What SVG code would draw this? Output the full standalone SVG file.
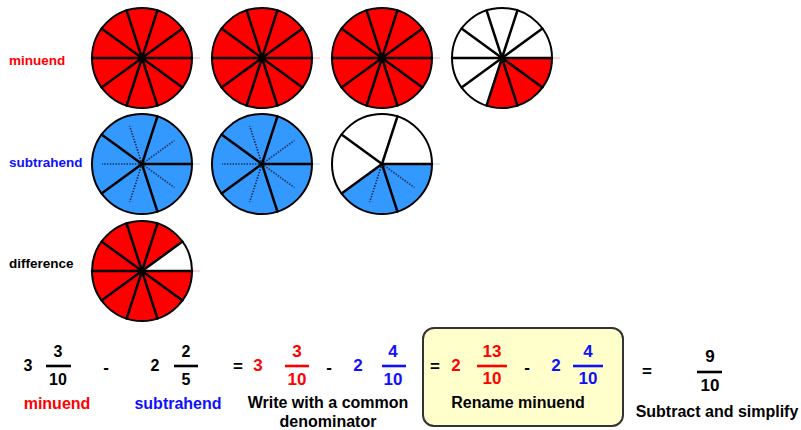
<svg xmlns="http://www.w3.org/2000/svg" xmlns:xlink="http://www.w3.org/1999/xlink" width="801" height="430" viewBox="0 0 801 430">
<style>
text{font-family:"Liberation Sans",Arial,sans-serif;font-weight:bold}
.lbl{font-size:13.5px}
.cap{font-size:16px;text-anchor:middle}
.num{font-size:16px;text-anchor:middle}
.num2{font-size:17px;text-anchor:middle}
.sym{font-size:17px;text-anchor:middle}
.red{fill:#ff0000}
.blue{fill:#1010ff}
.blk{fill:#000}
.spoke{stroke:#000;stroke-width:2.5;stroke-linecap:round}
.dot{stroke:#1a2a44;stroke-width:1.6;stroke-dasharray:1.4 1.4}
.rim{fill:none;stroke:#000;stroke-width:2}
.bar{stroke-width:2.6}
</style>
<defs>
<g id="spokes10">
<line class="spoke" x1="0" y1="0" x2="50" y2="0"/>
<line class="spoke" x1="0" y1="0" x2="40.45" y2="-29.39"/>
<line class="spoke" x1="0" y1="0" x2="15.45" y2="-47.55"/>
<line class="spoke" x1="0" y1="0" x2="-15.45" y2="-47.55"/>
<line class="spoke" x1="0" y1="0" x2="-40.45" y2="-29.39"/>
<line class="spoke" x1="0" y1="0" x2="-50" y2="0"/>
<line class="spoke" x1="0" y1="0" x2="-40.45" y2="29.39"/>
<line class="spoke" x1="0" y1="0" x2="-15.45" y2="47.55"/>
<line class="spoke" x1="0" y1="0" x2="15.45" y2="47.55"/>
<line class="spoke" x1="0" y1="0" x2="40.45" y2="29.39"/>
<circle cx="0" cy="0" r="3" fill="#000"/>
</g>
<g id="spokes5">
<line class="spoke" x1="0" y1="0" x2="50" y2="0"/>
<line class="spoke" x1="0" y1="0" x2="15.45" y2="-47.55"/>
<line class="spoke" x1="0" y1="0" x2="-40.45" y2="-29.39"/>
<line class="spoke" x1="0" y1="0" x2="-40.45" y2="29.39"/>
<line class="spoke" x1="0" y1="0" x2="15.45" y2="47.55"/>
</g>
<g id="dots5">
<line class="dot" x1="0" y1="0" x2="32.36" y2="-23.51"/>
<line class="dot" x1="0" y1="0" x2="-12.36" y2="-38.04"/>
<line class="dot" x1="0" y1="0" x2="-40" y2="0"/>
<line class="dot" x1="0" y1="0" x2="-12.36" y2="38.04"/>
<line class="dot" x1="0" y1="0" x2="32.36" y2="23.51"/>
</g>
<g id="redFull">
<line x1="50" y1="0" x2="58" y2="0" stroke="#ffb0b0" stroke-width="1"/>
<circle r="50" fill="#ff0000"/>
<use xlink:href="#spokes10"/>
<circle r="50" class="rim"/>
</g>
<g id="blueFull">
<line x1="50" y1="0" x2="58" y2="0" stroke="#b0d8ff" stroke-width="1"/>
<circle r="50" fill="#3399ff"/>
<use xlink:href="#dots5"/>
<use xlink:href="#spokes5"/>
<circle r="50" class="rim"/>
</g>
</defs>

<g id="label-minuend"><text class="lbl red" x="9" y="65">minuend</text></g>
<g id="label-subtrahend"><text class="lbl blue" x="9" y="167">subtrahend</text></g>
<g id="label-difference"><text class="lbl blk" x="9" y="268">difference</text></g>

<g id="minuend-1" transform="translate(142,58)"><use xlink:href="#redFull"/></g>
<g id="minuend-2" transform="translate(262,58)"><use xlink:href="#redFull"/></g>
<g id="minuend-3" transform="translate(382,58)"><use xlink:href="#redFull"/></g>
<g id="minuend-4" transform="translate(502,58)">
<line x1="50" y1="0" x2="58" y2="0" stroke="#ffb0b0" stroke-width="1"/>
<circle r="50" fill="#fff"/>
<path d="M0,0 L50,0 A50,50 0 0 1 -15.45,47.55 Z" fill="#ff0000"/>
<use xlink:href="#spokes10"/>
<circle r="50" class="rim"/>
</g>

<g id="subtrahend-1" transform="translate(142,164)"><use xlink:href="#blueFull"/></g>
<g id="subtrahend-2" transform="translate(262,164)"><use xlink:href="#blueFull"/></g>
<g id="subtrahend-3" transform="translate(382,164)">
<line x1="50" y1="0" x2="58" y2="0" stroke="#b0d8ff" stroke-width="1"/>
<circle r="50" fill="#fff"/>
<path d="M0,0 L50,0 A50,50 0 0 1 -40.45,29.39 Z" fill="#3399ff"/>
<line class="dot" x1="0" y1="0" x2="-12.36" y2="38.04"/>
<line class="dot" x1="0" y1="0" x2="32.36" y2="23.51"/>
<use xlink:href="#spokes5"/>
<circle r="50" class="rim"/>
</g>

<g id="difference-1" transform="translate(142,271)">
<line x1="50" y1="0" x2="58" y2="0" stroke="#ffb0b0" stroke-width="1"/>
<circle r="50" fill="#ff0000"/>
<path d="M0,0 L50,0 A50,50 0 0 0 40.45,-29.39 Z" fill="#fff"/>
<use xlink:href="#spokes10"/>
<circle r="50" class="rim"/>
</g>

<g id="eq-original">
<text class="num blk" x="28" y="371">3</text>
<text class="num blk" x="58" y="357">3</text>
<line class="bar" x1="46" y1="366" x2="71" y2="366" stroke="#000"/>
<text class="num blk" x="58" y="385">10</text>
<text class="sym blk" x="106" y="373">-</text>
<text class="num blk" x="155" y="371">2</text>
<text class="num blk" x="186" y="357">2</text>
<line class="bar" x1="174" y1="366" x2="198" y2="366" stroke="#000"/>
<text class="num blk" x="186" y="385">5</text>
<text class="cap red" x="57" y="409">minuend</text>
<text class="cap blue" x="178" y="409">subtrahend</text>
</g>

<g id="eq-common">
<text class="sym blk" x="238" y="372">=</text>
<text class="num2 red" x="258" y="371">3</text>
<text class="num2 red" x="297" y="357">3</text>
<line class="bar" x1="285" y1="366" x2="309" y2="366" stroke="#ff0000"/>
<text class="num2 red" x="297" y="385">10</text>
<text class="sym blk" x="329" y="373">-</text>
<text class="num2 blue" x="358" y="371">2</text>
<text class="num2 blue" x="393" y="357">4</text>
<line class="bar" x1="382" y1="366" x2="406" y2="366" stroke="#1010ff"/>
<text class="num2 blue" x="393" y="385">10</text>
<text class="cap blk" x="328" y="408">Write with a common</text>
<text class="cap blk" x="328" y="427">denominator</text>
</g>

<g id="eq-rename">
<rect x="423" y="328" width="200" height="98" rx="11" ry="11" fill="#ffffcc" stroke="#333" stroke-width="2"/>
<text class="sym blk" x="435" y="372">=</text>
<text class="num2 red" x="456" y="371">2</text>
<text class="num2 red" x="492" y="357">13</text>
<line class="bar" x1="477" y1="366" x2="507" y2="366" stroke="#ff0000"/>
<text class="num2 red" x="492" y="384">10</text>
<text class="sym blk" x="527" y="373">-</text>
<text class="num2 blue" x="556" y="371">2</text>
<text class="num2 blue" x="588" y="357">4</text>
<line class="bar" x1="573" y1="366" x2="603" y2="366" stroke="#1010ff"/>
<text class="num2 blue" x="588" y="384">10</text>
<text class="cap blk" x="518" y="408">Rename minuend</text>
</g>

<g id="eq-result">
<text class="sym blk" x="647" y="377">=</text>
<text class="num2 blk" x="710" y="362">9</text>
<line class="bar" x1="697" y1="372" x2="722" y2="372" stroke="#000"/>
<text class="num2 blk" x="710" y="391">10</text>
<text class="cap blk" x="717" y="417">Subtract and simplify</text>
</g>
</svg>
